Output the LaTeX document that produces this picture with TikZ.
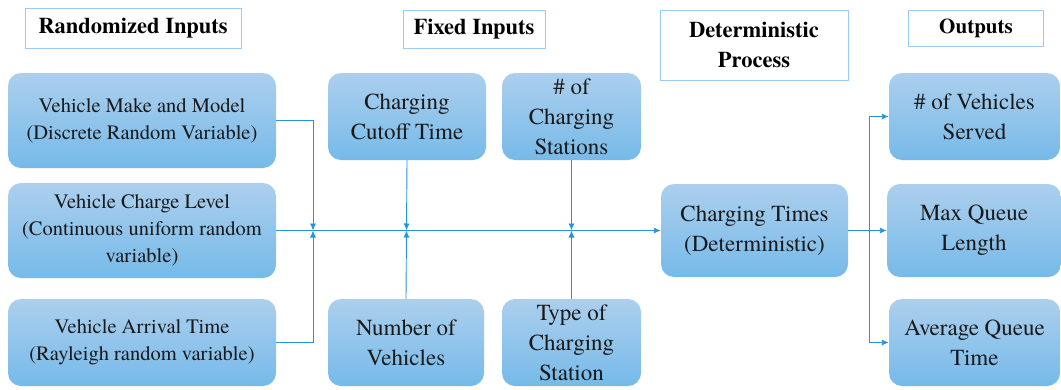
\documentclass[tikz,border=0pt]{standalone}
\usepackage{fontspec}
\setmainfont{TeX Gyre Termes}
\usetikzlibrary{arrows.meta}
\definecolor{lnblue}{RGB}{36,148,222}
\definecolor{hdblue}{RGB}{150,205,240}
\definecolor{boxtop}{RGB}{172,207,237}
\definecolor{boxbot}{RGB}{118,186,233}
\begin{document}
\begin{tikzpicture}[x=1pt,y=-1pt,
  hdr/.style={draw=hdblue, line width=1pt, fill=white, align=center, inner sep=0pt, font=\fontsize{22.5}{30}\selectfont\bfseries},
  blk/.style={rounded corners=13pt, top color=boxtop, bottom color=boxbot, draw=none, align=center, inner sep=0pt, text=black!90, font=\fontsize{23}{30}\selectfont},
  inblk/.style={blk, minimum width=268pt, font=\fontsize{20.5}{27}\selectfont},
  cn/.style={draw=lnblue, line width=0.9pt},
  cnarr/.style={cn, -{Latex[length=7pt,width=6pt]}}]
\useasboundingbox (0,0) rectangle (1061,389);
% column headings
\node [hdr, minimum width=216pt, minimum height=40pt] (hrand) at (133,28) {Randomized Inputs};
\node [hdr, minimum width=142pt, minimum height=38pt] (hfix) at (474,29) {Fixed Inputs};
\node [hdr, minimum width=188pt, minimum height=70pt] (hdet) at (754,45) {Deterministic\\Process};
\node [hdr, minimum width=135pt, minimum height=36pt, font=\fontsize{21}{28}\selectfont\bfseries] (hout) at (976,28) {Outputs};
% randomized inputs
\node [inblk, minimum height=95pt] (make) at (142,120.5) {Vehicle Make and Model\\(Discrete Random Variable)};
\node [inblk, minimum height=95pt] (charge) at (142,230.5) {Vehicle Charge Level\\(Continuous uniform random\\variable)};
\node [inblk, minimum height=87pt] (arrive) at (142,342.5) {Vehicle Arrival Time\\(Rayleigh random variable)};
% fixed inputs
\node [blk, minimum width=158pt, minimum height=87pt] (cutoff) at (407,116.5) {Charging\\Cutoff Time};
\node [blk, minimum width=139pt, minimum height=87pt] (nstat) at (571.5,116.5) {\# of\\Charging\\Stations};
\node [blk, minimum width=156pt, minimum height=87pt] (nveh) at (406,342.5) {Number of\\Vehicles};
\node [blk, minimum width=139pt, minimum height=87pt] (ctype) at (571.5,342.5) {Type of\\Charging\\Station};
% process
\node [blk, minimum width=187pt, minimum height=93pt] (ctime) at (754.5,230.5) {Charging Times\\(Deterministic)};
% outputs
\node [blk, minimum width=171pt, minimum height=87pt] (served) at (974.5,116.5) {\# of Vehicles\\Served};
\node [blk, minimum width=174pt, minimum height=93pt] (maxq) at (974,230.5) {Max Queue\\Length};
\node [blk, minimum width=171pt, minimum height=87pt] (avgq) at (974.5,342.5) {Average Queue\\Time};
% junctions
\coordinate (jr) at (313,230.5);
\coordinate (jc) at (406.5,230.5);
\coordinate (js) at (571.5,230.5);
\coordinate (jo) at (869,230.5);
% connectors
\draw [cnarr] (charge.east) -- (ctime.west);
\draw [cnarr] (make.east) -| (jr);
\draw [cnarr] (arrive.east) -| (jr);
\draw [cnarr] (cutoff.south) -- (jc);
\draw [cnarr] (nveh.north) -- (jc);
\draw [cnarr] (nstat.south) -- (js);
\draw [cnarr] (ctype.north) -- (js);
\draw [cn] (ctime.east) -- (jo);
\draw [cnarr] (jo) |- (served.west);
\draw [cnarr] (jo) -- (maxq.west);
\draw [cnarr] (jo) |- (avgq.west);
\end{tikzpicture}
\end{document}
